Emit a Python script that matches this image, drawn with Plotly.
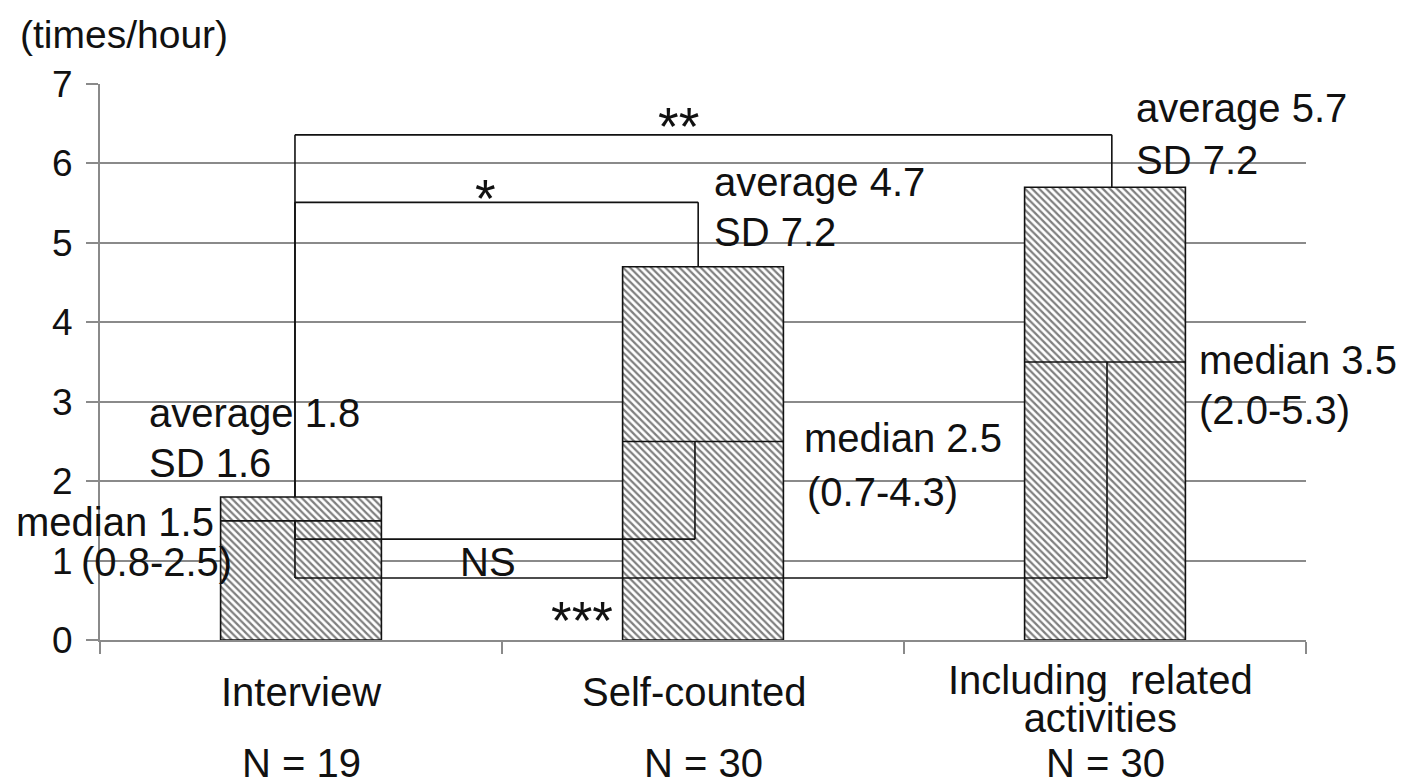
import plotly.graph_objects as go

# Measured frequencies (times per hour) for each counting method
categories = ["Interview", "Self-counted", "Including related activities"]
category_lines = [["Interview"], ["Self-counted"], ["Including\u00a0 related", "activities"]]
sample_sizes = [19, 30, 30]
averages = [1.8, 4.7, 5.7]
sds = [1.6, 7.2, 7.2]
medians = [1.5, 2.5, 3.5]
iqr_low = [0.8, 0.7, 2.0]
iqr_high = [2.5, 4.3, 5.3]

# Pairwise comparisons: (from, to, significance marker, which statistic)
comparisons = [
    (0, 1, "*", "average"),
    (0, 2, "**", "average"),
    (0, 1, "NS", "median"),
    (0, 2, "***", "median"),
]

FONT = "Liberation Sans, Arial, sans-serif"
GRID = "#8a8a8a"
BAR_W = 0.4
X_RANGE = (-0.5, 2.5)
Y_RANGE = (0, 7)

fig = go.Figure()
fig.add_trace(go.Bar(
    x=categories,
    y=averages,
    width=BAR_W,
    marker=dict(
        color="white",
        line=dict(color="#111111", width=1.6),
        pattern=dict(shape="\\", fgcolor="#000000", bgcolor="white",
                     size=5, solidity=0.45),
    ),
    showlegend=False,
    hoverinfo="skip",
))

shapes = []
line_style = dict(color="#111111", width=1.6)

# median lines across each bar
for i, m in enumerate(medians):
    shapes.append(dict(type="line", xref="x", yref="y",
                       x0=i - BAR_W / 2, x1=i + BAR_W / 2, y0=m, y1=m,
                       line=line_style, layer="above"))

# bracket layout: levels and horizontal offsets of the legs
bracket_level = {"*": 5.51, "**": 6.36, "NS": 1.27, "***": 0.78}
leg_offset = {"*": -0.012, "**": 0.017, "NS": -0.02, "***": 0.005}
left_leg = -0.015

for a, b, mark, stat in comparisons:
    lvl = bracket_level[mark]
    start_a = averages[a] if stat == "average" else medians[a]
    end_b = averages[b] if stat == "average" else medians[b]
    xb = b + leg_offset[mark]
    shapes.append(dict(type="line", xref="x", yref="y", x0=a + left_leg, x1=xb,
                       y0=lvl, y1=lvl, line=line_style, layer="above"))
    shapes.append(dict(type="line", xref="x", yref="y", x0=a + left_leg, x1=a + left_leg,
                       y0=start_a, y1=lvl, line=line_style, layer="above"))
    shapes.append(dict(type="line", xref="x", yref="y", x0=xb, x1=xb,
                       y0=lvl, y1=end_b, line=line_style, layer="above"))

annotations = []


def text(x, y, s, size=40, xanchor="left", yanchor="middle"):
    """Place a label given in axis units; paper refs keep it visible outside the axes."""
    px = (x - X_RANGE[0]) / (X_RANGE[1] - X_RANGE[0])
    py = (y - Y_RANGE[0]) / (Y_RANGE[1] - Y_RANGE[0])
    annotations.append(dict(x=px, y=py, xref="paper", yref="paper", text=s,
                            showarrow=False, xanchor=xanchor, yanchor=yanchor,
                            borderpad=0,
                            font=dict(family=FONT, size=size, color="#111111")))


# average / SD labels
avg_pos = [(-0.381, 2.858, 2.228), (1.025, 5.77, 5.14), (2.075, 6.70, 6.04)]
for i, (x, y1, y2) in enumerate(avg_pos):
    text(x, y1, f"average {averages[i]:.1f}")
    text(x, y2, f"SD {sds[i]:.1f}")

# median / interquartile labels
med_pos = [(-0.711, 1.486, -0.55, 0.98), (1.249, 2.543, 1.256, 1.863),
           (2.231, 3.525, 2.231, 2.896)]
for i, (x1, y1, x2, y2) in enumerate(med_pos):
    text(x1, y1, f"median {medians[i]:.1f}")
    text(x2, y2, f"({iqr_low[i]:.1f}-{iqr_high[i]:.1f})")

# significance markers (asterisks set larger than the body text)
mark_pos = {"*": (0.458, 5.56, 53), "**": (0.938, 6.47, 53),
            "NS": (0.465, 0.982, 40), "***": (0.699, 0.25, 53)}
for _, _, mark, _ in comparisons:
    x, y, sz = mark_pos[mark]
    text(x, y, mark, size=sz, xanchor="center")

# unit label
text(-0.702, 7.62, "(times/hour)", size=39)

# category names and sample sizes under the axis; wrapped names use a tight
# line pitch (small base size, glyphs enlarged per line)
cat_x_shift = [0.0, -0.02, -0.01]
for i, lines in enumerate(category_lines):
    if len(lines) == 1:
        text(i + cat_x_shift[i], -0.66, lines[0], xanchor="center")
    else:
        body = "<br>".join(f'<span style="font-size:40px">{ln}</span>' for ln in lines)
        text(i + cat_x_shift[i], -0.745, body, size=29, xanchor="center")
    text(i, -1.55, f"N = {sample_sizes[i]}", xanchor="center")

fig.update_layout(
    width=1401, height=784, autosize=False,
    margin=dict(l=100, r=95, t=84, b=144),
    paper_bgcolor="white", plot_bgcolor="white",
    shapes=shapes, annotations=annotations,
    xaxis=dict(type="category", range=list(X_RANGE), showgrid=False,
               showline=True, linecolor=GRID, linewidth=2,
               ticks="outside", tickson="boundaries", ticklen=12,
               tickcolor=GRID, tickwidth=2, showticklabels=False),
    yaxis=dict(range=list(Y_RANGE), dtick=1, showgrid=True, gridcolor=GRID, gridwidth=2,
               showline=True, linecolor=GRID, linewidth=2, zeroline=False,
               ticks="outside", ticklen=12, tickcolor=GRID, tickwidth=2,
               ticklabelstandoff=6,
               tickfont=dict(family=FONT, size=37, color="#111111")),
)

fig.write_html("out.html")
